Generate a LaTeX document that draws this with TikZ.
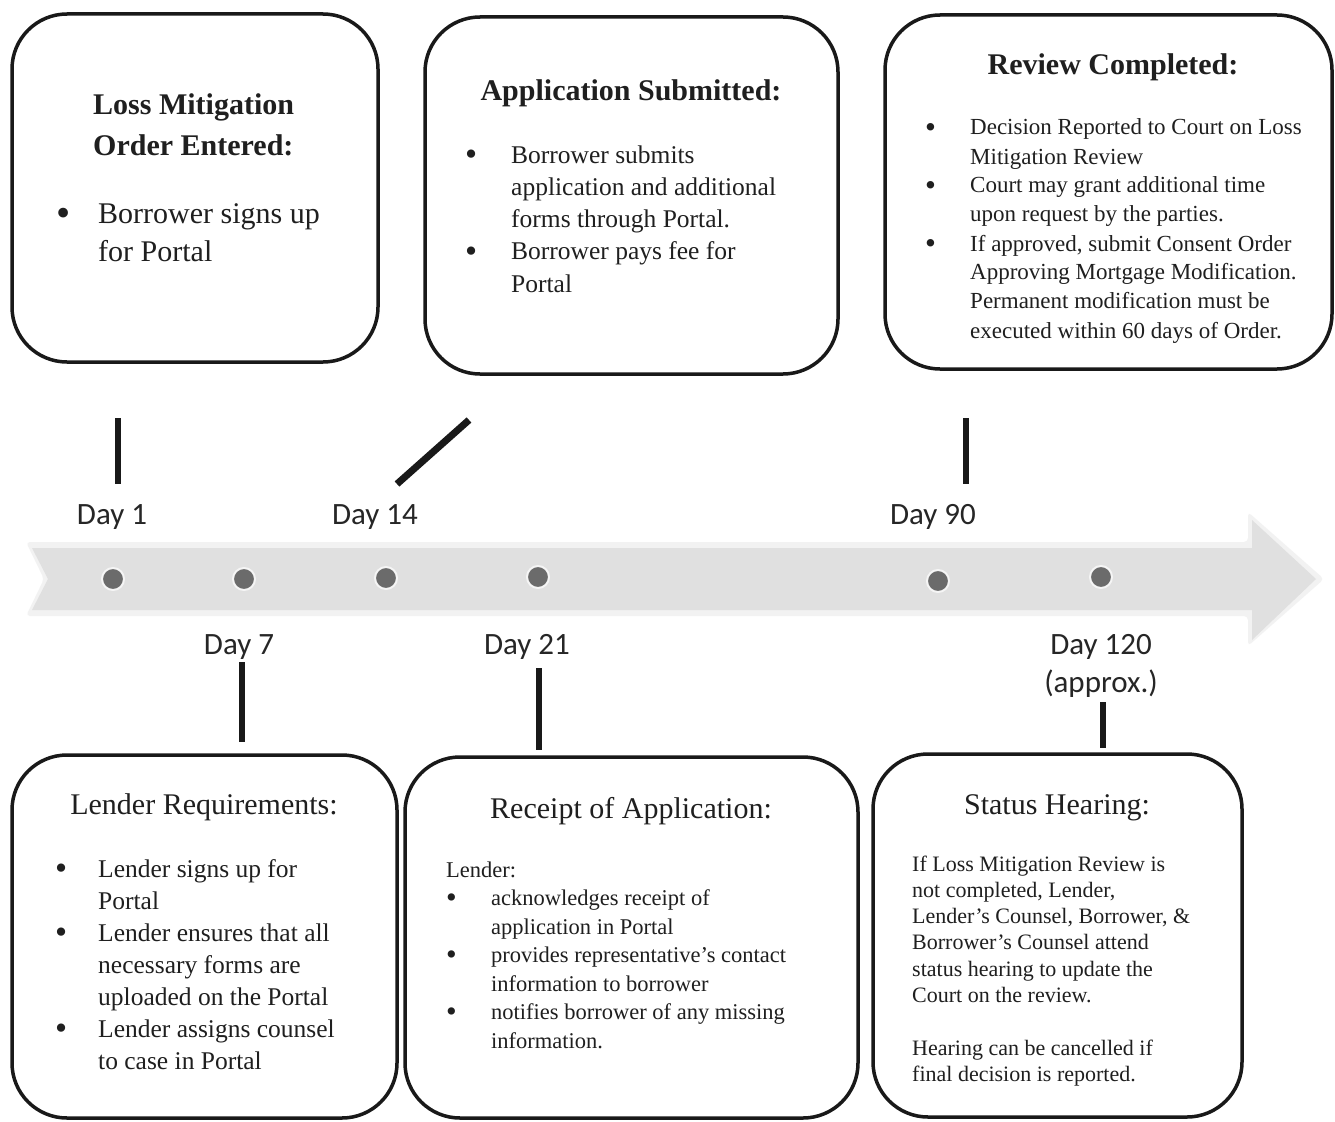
\documentclass[tikz,border=0pt]{standalone}
\usepackage{fontspec}
\setmainfont{Liberation Serif}
\newfontfamily\lblfont{Carlito}
\usepackage{array}
\newcommand\bul{\raisebox{-0.11em}{\scalebox{1.35}{\textbullet}}}
\begin{document}
\begin{tikzpicture}[x=1pt,y=-1pt,
  box/.style={draw=black!90, line width=3.5pt, rounded corners=55pt, inner sep=0pt},
  tickline/.style={line width=6pt, black!90},
  daylbl/.style={font=\lblfont\fontsize{31}{36}\selectfont, text=black!85, anchor=base, inner sep=0pt},
  dot/.style={circle, fill=black!58, minimum size=22pt, inner sep=0pt, draw=white!96!black, line width=2pt},
  txt/.style={inner sep=0pt, anchor=base west, text=black!88},
  ttl/.style={inner sep=0pt, anchor=base, text=black!88, font=\fontsize{30}{36}\selectfont},
]
\useasboundingbox (0,0) rectangle (1335,1121);
\fill[white] (0,0) rectangle (1335,1121);

% timeline arrow
\fill[black!5, rounded corners=4pt] (26,542) -- (1248,542) -- (1248,512) -- (1324,579) -- (1248,646) -- (1248,616) -- (26,616) -- (44,579) -- cycle;
\fill[black!12] (32,548) -- (1252,548) -- (1252,520) -- (1316,579) -- (1252,640) -- (1252,610) -- (32,610) -- (48,579) -- cycle;

% dots
\node[dot] (d1) at (113,579) {};
\node[dot] (d7) at (244,579) {};
\node[dot] (d14) at (386,578) {};
\node[dot] (d21) at (538,577) {};
\node[dot] (d90) at (938,581) {};
\node[dot] (d120) at (1101,577) {};

% day labels
\node[daylbl] (l1) at (112,524) {Day 1};
\node[daylbl] (l14) at (375,524) {Day 14};
\node[daylbl] (l90) at (933,524) {Day 90};
\node[daylbl] (l7) at (239,654) {Day 7};
\node[daylbl] (l21) at (527,654) {Day 21};
\node[daylbl] (l120) at (1101,654) {Day 120};
\node[daylbl] (l120b) at (1101,692) {(approx.)};

% tick marks
\coordinate (t1a) at (118,418); \coordinate (t1b) at (118,484);
\coordinate (t14a) at (469,420); \coordinate (t14b) at (397,484);
\coordinate (t90a) at (966,418); \coordinate (t90b) at (966,484);
\coordinate (t7a) at (242,662); \coordinate (t7b) at (242,742);
\coordinate (t21a) at (539,668); \coordinate (t21b) at (539,750);
\coordinate (t120a) at (1103,702); \coordinate (t120b) at (1103,748);
\draw[tickline] (t1a) -- (t1b);
\draw[tickline, line width=7pt] (t14a) -- (t14b);
\draw[tickline] (t90a) -- (t90b);
\draw[tickline] (t7a) -- (t7b);
\draw[tickline] (t21a) -- (t21b);
\draw[tickline] (t120a) -- (t120b);

% boxes
\node[box, minimum width=366pt, minimum height=348pt] (b1) at (195,188) {};
\node[box, minimum width=413pt, minimum height=357pt] (b2) at (631.5,195.5) {};
\node[box, minimum width=447pt, minimum height=354pt] (b3) at (1108.5,192) {};
\node[box, minimum width=385pt, minimum height=363pt] (b4) at (204.5,936.5) {};
\node[box, minimum width=453pt, minimum height=361pt] (b5) at (631.5,937.5) {};
\node[box, minimum width=369pt, minimum height=363pt] (b6) at (1057.5,935.5) {};

% box 1
\node[txt, font=\fontsize{30}{41}\selectfont\bfseries] (b1t) at (93,114)
  {\begin{tabular}[t]{@{}l@{}}Loss Mitigation\\Order Entered:\end{tabular}};
\node[txt, font=\fontsize{30}{38}\selectfont] (b1b) at (56,223)
  {\begin{tabular}[t]{@{}p{42pt}@{}l@{}}\bul & Borrower signs up\\ & for Portal\end{tabular}};

% box 2
\node[ttl, font=\fontsize{30}{36}\selectfont\bfseries] (b2t) at (631,101) {Application Submitted:};
\node[txt, font=\fontsize{25.5}{32.3}\selectfont] (b2b) at (465,163)
  {\begin{tabular}[t]{@{}p{46pt}@{}l@{}}\bul & Borrower submits\\ & application and additional\\ & forms through Portal.\\
  \bul & Borrower pays fee for\\ & Portal\end{tabular}};

% box 3
\node[ttl, font=\fontsize{30}{36}\selectfont\bfseries] (b3t) at (1113,75) {Review Completed:};
\node[txt, font=\fontsize{23}{29}\selectfont] (b3b) at (925,135)
  {\begin{tabular}[t]{@{}p{45pt}@{}l@{}}\bul & Decision Reported to Court on Loss\\ & Mitigation Review\\
  \bul & Court may grant additional time\\ & upon request by the parties.\\
  \bul & If approved, submit Consent Order\\ & Approving Mortgage Modification.\\ & Permanent modification must be\\ & executed within 60 days of Order.\end{tabular}};

% box 4
\node[ttl] (b4t) at (204,814) {Lender Requirements:};
\node[txt, font=\fontsize{25.5}{32}\selectfont] (b4b) at (55,877)
  {\begin{tabular}[t]{@{}p{43pt}@{}l@{}}\bul & Lender signs up for\\ & Portal\\
  \bul & Lender ensures that all\\ & necessary forms are\\ & uploaded on the Portal\\
  \bul & Lender assigns counsel\\ & to case in Portal\end{tabular}};

% box 5
\node[ttl] (b5t) at (631,818) {Receipt of Application:};
\node[txt, font=\fontsize{22.5}{28.5}\selectfont] (b5b) at (446,877)
  {\begin{tabular}[t]{@{}p{45pt}@{}l@{}}\multicolumn{2}{@{}l@{}}{Lender:}\\
  \bul & acknowledges receipt of\\ & application in Portal\\
  \bul & provides representative’s contact\\ & information to borrower\\
  \bul & notifies borrower of any missing\\ & information.\end{tabular}};

% box 6
\node[ttl] (b6t) at (1057,814) {Status Hearing:};
\node[txt, font=\fontsize{22}{26.3}\selectfont] (b6b) at (912,871)
  {\begin{tabular}[t]{@{}l@{}}If Loss Mitigation Review is\\ not completed, Lender,\\ Lender’s Counsel, Borrower, \&\\ Borrower’s Counsel attend\\ status hearing to update the\\ Court on the review.\\ \\ Hearing can be cancelled if\\ final decision is reported.\end{tabular}};
\end{tikzpicture}
\end{document}
